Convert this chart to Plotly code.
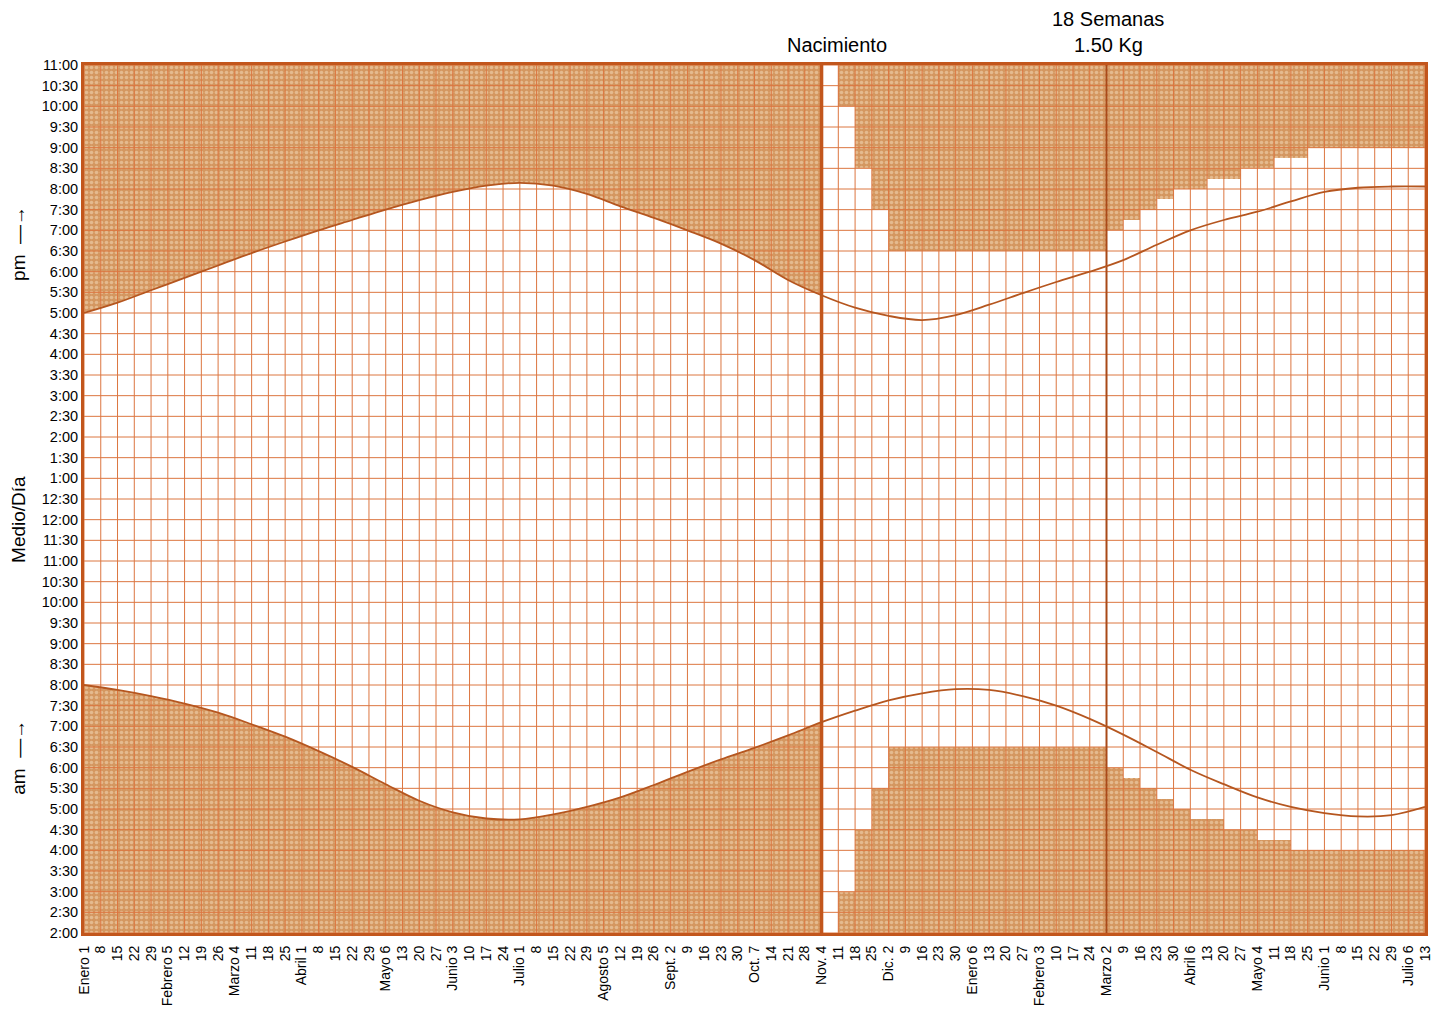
import plotly.graph_objects as go

# ---------------- data ----------------
week_labels = ["Enero 1","8","15","22","29","Febrero 5","12","19","26","Marzo 4","11","18","25",
               "Abril 1","8","15","22","29","Mayo 6","13","20","27","Junio 3","10","17","24",
               "Julio 1","8","15","22","29","Agosto 5","12","19","26","Sept. 2","9","16","23","30",
               "Oct. 7","14","21","28","Nov. 4","11","18","25","Dic. 2","9","16","23","30",
               "Enero 6","13","20","27","Febrero 3","10","17","24","Marzo 2","9","16","23","30",
               "Abril 6","13","20","27","Mayo 4","11","18","25","Junio 1","8","15","22","29",
               "Julio 6","13"]

hour_labels = ["2:00","2:30","3:00","3:30","4:00","4:30","5:00","5:30","6:00","6:30","7:00","7:30",
               "8:00","8:30","9:00","9:30","10:00","10:30","11:00","11:30","12:00","12:30",
               "1:00","1:30","2:00","2:30","3:00","3:30","4:00","4:30","5:00","5:30","6:00","6:30",
               "7:00","7:30","8:00","8:30","9:00","9:30","10:00","10:30","11:00"]

# natural day length: week index (every 2 weeks) and sunset / sunrise (hours of day)
curve_weeks = [0, 2, 4, 6, 8, 10, 12, 14, 16, 18, 20, 22, 24, 26, 28, 30, 32, 34, 36, 38, 40,
               42, 44, 46, 48, 50, 52, 54, 56, 58, 60, 62, 64, 66, 68, 70, 72, 74, 76, 78, 80]
sunset_h = [17.00, 17.25, 17.55, 17.85, 18.15, 18.45, 18.73, 19.00, 19.25, 19.50, 19.73,
            19.93, 20.08, 20.15, 20.08, 19.88, 19.58, 19.30, 19.00, 18.68, 18.28,
            17.80, 17.43, 17.13, 16.93, 16.83, 16.95, 17.20, 17.48, 17.75, 18.00,
            18.28, 18.65, 19.00, 19.25, 19.45, 19.70, 19.93, 20.03, 20.06, 20.06]
sunrise_h = [8.00, 7.88, 7.73, 7.55, 7.33, 7.05, 6.75, 6.40, 6.02, 5.60, 5.20,
             4.92, 4.77, 4.75, 4.87, 5.05, 5.28, 5.58, 5.90, 6.20, 6.48,
             6.78, 7.10, 7.38, 7.63, 7.80, 7.90, 7.88, 7.73, 7.50, 7.18,
             6.80, 6.38, 5.95, 5.60, 5.28, 5.05, 4.90, 4.82, 4.85, 5.05]

birth_week = 44      # Nacimiento (Nov. 4)
weeks18_week = 61    # 18 Semanas / 1.50 Kg (Marzo 2)

# artificial light program after birth: one entry per weekly column
light_cols = list(range(44, 80))
lights_on = [2.0, 3.0, 4.5, 5.5] + [6.5] * 13 + [6.0, 5.75, 5.5, 5.25, 5.0, 4.75, 4.75, 4.5, 4.5,
                                                 4.25, 4.25, 4.0] + [4.0] * 7
lights_off = [23.0, 22.0, 20.5, 19.5] + [18.5] * 13 + [19.0, 19.25, 19.5, 19.75, 20.0, 20.0, 20.25,
                                                     20.25, 20.5, 20.5, 20.75, 20.75] + [21.0] * 7

# ---------------- styling ----------------
Y0, Y1 = 2.0, 23.0
X0, X1 = 0, 80
FONT = "Liberation Sans, Arial, DejaVu Sans"
GRID = "#DC7640"
EDGE = "#C2561C"
CURVE = "#B5561F"
FILL = "#D49760"
pattern = dict(shape=".", bgcolor=FILL, fgcolor="#F3DDBD", size=5, solidity=0.4)

fig = go.Figure()

# ----- left part: shading follows the natural curves -----
left_idx = [i for i, w in enumerate(curve_weeks) if w <= birth_week]
lx = [curve_weeks[i] for i in left_idx]
lset = [sunset_h[i] for i in left_idx]
lrise = [sunrise_h[i] for i in left_idx]

fig.add_trace(go.Scatter(x=lx, y=[Y1 + 1] * len(lx), mode="lines", line=dict(width=0),
                         hoverinfo="skip", showlegend=False))
fig.add_trace(go.Scatter(x=lx, y=lset, mode="lines", line=dict(width=0, shape="spline"),
                         fill="tonexty", fillcolor=FILL, fillpattern=pattern,
                         hoverinfo="skip", showlegend=False))
fig.add_trace(go.Scatter(x=lx, y=[Y0 - 1] * len(lx), mode="lines", line=dict(width=0),
                         hoverinfo="skip", showlegend=False))
fig.add_trace(go.Scatter(x=lx, y=lrise, mode="lines", line=dict(width=0, shape="spline"),
                         fill="tonexty", fillcolor=FILL, fillpattern=pattern,
                         hoverinfo="skip", showlegend=False))

# ----- right part: stepped artificial-light program -----
centers = [c + 0.5 for c in light_cols]
fig.add_trace(go.Bar(x=centers, y=[Y1 - off for off in lights_off], base=lights_off, width=1,
                     marker=dict(color=FILL, pattern=pattern, line=dict(width=0)),
                     hoverinfo="skip", showlegend=False))
fig.add_trace(go.Bar(x=centers, y=[on - Y0 for on in lights_on], base=[Y0] * len(lights_on), width=1,
                     marker=dict(color=FILL, pattern=pattern, line=dict(width=0)),
                     hoverinfo="skip", showlegend=False))

# ----- grid (drawn over the shading) -----
gx, gy = [], []
for w in range(X0, X1 + 1):
    gx += [w, w, None]
    gy += [Y0, Y1, None]
n_rows = int((Y1 - Y0) * 2)
for k in range(n_rows + 1):
    h = Y0 + k / 2
    gx += [X0, X1, None]
    gy += [h, h, None]
fig.add_trace(go.Scatter(x=gx, y=gy, mode="lines", line=dict(color=GRID, width=1),
                         hoverinfo="skip", showlegend=False, connectgaps=False))

# ----- event lines -----
fig.add_trace(go.Scatter(x=[birth_week, birth_week], y=[Y0, Y1], mode="lines",
                         line=dict(color=EDGE, width=3.5), hoverinfo="skip", showlegend=False))
fig.add_trace(go.Scatter(x=[weeks18_week, weeks18_week], y=[Y0, Y1], mode="lines",
                         line=dict(color="#A94A18", width=2), hoverinfo="skip", showlegend=False))

# ----- natural curves -----
fig.add_trace(go.Scatter(x=curve_weeks, y=sunset_h, mode="lines",
                         line=dict(color=CURVE, width=1.8, shape="spline"),
                         hoverinfo="skip", showlegend=False))
fig.add_trace(go.Scatter(x=curve_weeks, y=sunrise_h, mode="lines",
                         line=dict(color=CURVE, width=1.8, shape="spline"),
                         hoverinfo="skip", showlegend=False))

# ----- annotations -----
ann_font = dict(family=FONT, size=20, color="black")
side_font = dict(family=FONT, size=19, color="black")
annotations = [
    dict(x=birth_week + 0.95, y=1.023, xref="x", yref="paper", text="Nacimiento",
         showarrow=False, font=ann_font, xanchor="center", yanchor="middle"),
    dict(x=weeks18_week + 0.1, y=1.053, xref="x", yref="paper", text="18 Semanas",
         showarrow=False, font=ann_font, xanchor="center", yanchor="middle"),
    dict(x=weeks18_week + 0.1, y=1.023, xref="x", yref="paper", text="1.50 Kg",
         showarrow=False, font=ann_font, xanchor="center", yanchor="middle"),
    dict(x=-0.0485, y=0.795, xref="paper", yref="paper", text="pm  —→", textangle=-90,
         showarrow=False, font=side_font, xanchor="center", yanchor="middle"),
    dict(x=-0.0485, y=0.477, xref="paper", yref="paper", text="Medio/Día", textangle=-90,
         showarrow=False, font=side_font, xanchor="center", yanchor="middle"),
    dict(x=-0.0485, y=0.203, xref="paper", yref="paper", text="am  —→", textangle=-90,
         showarrow=False, font=side_font, xanchor="center", yanchor="middle"),
]

fig.update_layout(
    width=1431, height=1004,
    margin=dict(l=76, r=14, t=57, b=79, autoexpand=False),
    paper_bgcolor="white", plot_bgcolor="white",
    barmode="overlay", bargap=0,
    annotations=annotations,
    font=dict(family=FONT, color="black"),
    xaxis=dict(range=[X0, X1], tickmode="array", tickvals=list(range(X0, X1 + 1)),
               ticktext=week_labels, tickangle=-90, tickfont=dict(size=14, family=FONT),
               showgrid=False, zeroline=False, showline=True, mirror=True,
               linecolor=EDGE, linewidth=3, ticks="outside", ticklen=4,
               tickcolor="rgba(0,0,0,0)", layer="above traces", automargin=False),
    yaxis=dict(range=[Y0, Y1], tickmode="array",
               tickvals=[Y0 + k / 2 for k in range(len(hour_labels))],
               ticktext=hour_labels, tickfont=dict(size=14.5, family=FONT),
               showgrid=False, zeroline=False, showline=True, mirror=True,
               linecolor=EDGE, linewidth=3, ticks="", ticklen=0, layer="above traces",
               automargin=False),
)

fig.write_html("out.html")
